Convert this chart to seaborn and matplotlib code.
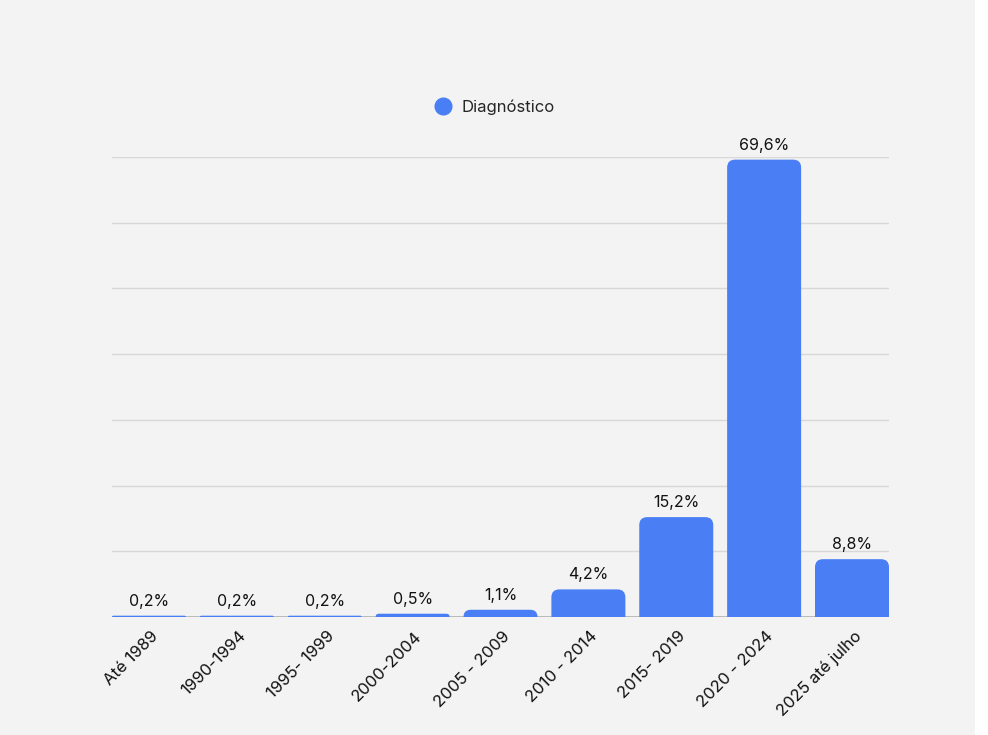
import matplotlib.pyplot as plt
import matplotlib.transforms as mtransforms
import seaborn as sns
import pandas as pd
from matplotlib.patches import FancyBboxPatch, Rectangle
from matplotlib.lines import Line2D

periodos = ['Até 1989', '1990-1994', '1995- 1999', '2000-2004', '2005 - 2009',
            '2010 - 2014', '2015- 2019', '2020 - 2024', '2025 até julho']
diagnostico = [0.2, 0.2, 0.2, 0.5, 1.1, 4.2, 15.2, 69.6, 8.8]
serie = 'Diagnóstico'

df = pd.DataFrame({'periodo': periodos, 'valor': diagnostico, 'serie': serie})

sns.set_theme(style="white")
plt.rcParams['font.family'] = ['Inter', 'DejaVu Sans']

azul = '#4a7ef5'
fundo = '#f3f3f3'

fig = plt.figure(figsize=(9.88, 7.35), dpi=100, facecolor=fundo)
ax = fig.add_axes([112 / 988, 1 - 617 / 735, 777 / 988, 460 / 735])
ax.set_facecolor('none')

# faixa branca à direita
fig.patches.append(Rectangle((975 / 988, 0), 1, 1, transform=fig.transFigure,
                             facecolor='white', edgecolor='none', zorder=-10))

sns.barplot(data=df, x='periodo', y='valor', hue='serie', palette={serie: azul},
            width=0.842, ax=ax, errorbar=None, legend=True)

ax.set_xlim(-0.421, len(periodos) - 1 + 0.421)
ax.set_ylim(0, 70)

# cantos superiores arredondados
px_x = 777 / (ax.get_xlim()[1] - ax.get_xlim()[0])
px_y = 460 / 70
for p in list(ax.patches):
    x0, w, h = p.get_x(), p.get_width(), p.get_height()
    if h <= 0:
        continue
    p.remove()
    r_px = min(8, max(h * px_y, 1.5))
    rx = r_px / px_x
    ry = r_px / px_y
    novo = FancyBboxPatch((x0, -2 * ry), w, h + 2 * ry,
                          boxstyle=f"round,pad=0,rounding_size={rx}",
                          mutation_aspect=ry / rx, facecolor=azul,
                          edgecolor='none', zorder=3, clip_on=True)
    ax.add_patch(novo)

for i, v in enumerate(diagnostico):
    ax.annotate(f"{v:.1f}%".replace('.', ','), (i, v), xytext=(0, 5),
                textcoords='offset points', ha='center', va='bottom',
                fontsize=11.5, color='#111111')

for y in range(10, 71, 10):
    ax.axhline(y, color='#d8d8d8', linewidth=1, zorder=1)
ax.axhline(0, color='#b0b0b0', linewidth=1.2, zorder=2)

sns.despine(ax=ax, left=True, bottom=True)
ax.set_yticks([])
ax.set_xlabel('')
ax.set_ylabel('')
ax.tick_params(axis='x', length=0, pad=12)
desloc = mtransforms.ScaledTranslation(7 / 100, 0, fig.dpi_scale_trans)
for lbl in ax.get_xticklabels():
    lbl.set_rotation(45)
    lbl.set_ha('right')
    lbl.set_va('center')
    lbl.set_rotation_mode('anchor')
    lbl.set_fontsize(12)
    lbl.set_color('#111111')
    lbl.set_transform(lbl.get_transform() + desloc)

ax.get_legend().remove()
h = [Line2D([], [], marker='o', linestyle='', markersize=12,
            markerfacecolor=azul, markeredgecolor=azul)]
ax.legend(h, [serie], loc='center', bbox_to_anchor=(0.492, 1 + 50 / 460),
          frameon=False, fontsize=12, handletextpad=0.5, handlelength=1.2)

fig.savefig('out.png', dpi=100, facecolor=fundo)
